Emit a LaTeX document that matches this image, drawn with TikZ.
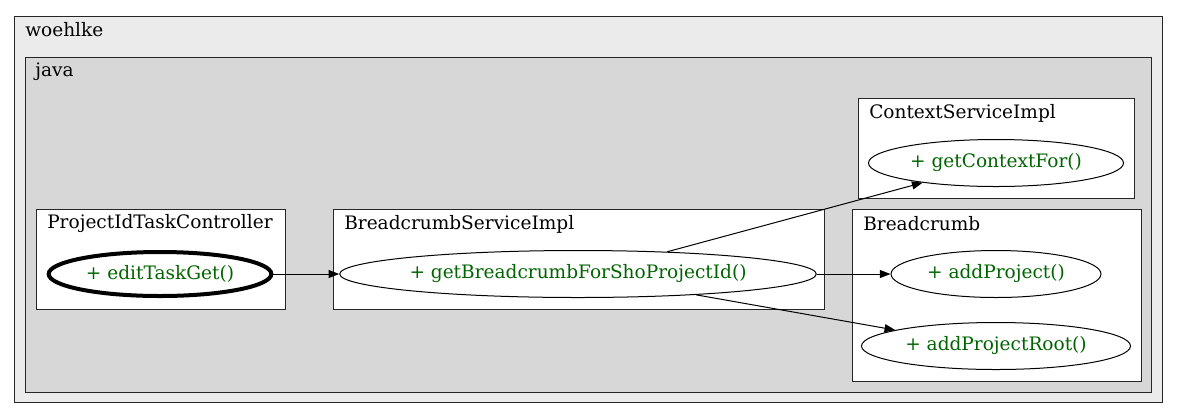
\documentclass[tikz,border=0pt]{standalone}
\usepackage{fontspec}
\setmainfont{DejaVu Serif}
\usetikzlibrary{arrows.meta,shapes.geometric}
\definecolor{pkgouter}{HTML}{EBEBEB}
\definecolor{pkginner}{HTML}{D7D7D7}
\definecolor{methgreen}{HTML}{006400}
\tikzset{
  cluster/.style={draw=black!85, line width=0.75pt},
  clabel/.style={anchor=west, inner sep=0pt, font=\fontsize{13.9pt}{15pt}\selectfont},
  method/.style={draw, ellipse, inner sep=0pt, line width=0.75pt, fill=white,
    text=methgreen, font=\fontsize{13.9pt}{15pt}\selectfont},
  call/.style={-{Triangle[length=8pt,width=6pt]}, line width=0.75pt}
}
\begin{document}
\begin{tikzpicture}[x=0.75pt,y=-0.75pt]
  \useasboundingbox[fill=white] (0,0) rectangle (1178,419);
  %%%%% packages %%%%%
  \filldraw[cluster, fill=pkgouter] (14,16) rectangle (1162,402);
  \node[clabel] (woehlke) at (25,30) {woehlke};
  \filldraw[cluster, fill=pkginner] (25,57) rectangle (1151,392);
  \node[clabel] (java) at (35,72) {java};
  %%%%% classes %%%%%
  \filldraw[cluster, fill=white] (36,209) rectangle (285,309);
  \node[clabel] (pitc) at (47,224) {ProjectIdTaskController};
  \filldraw[cluster, fill=white] (333,209) rectangle (824,309);
  \node[clabel] (bsi) at (344,224) {BreadcrumbServiceImpl};
  \filldraw[cluster, fill=white] (858,98) rectangle (1134,198);
  \node[clabel] (csi) at (869,113) {ContextServiceImpl};
  \filldraw[cluster, fill=white] (852,209) rectangle (1141,381);
  \node[clabel] (bc) at (863,224) {Breadcrumb};
  %%%%% methods %%%%%
  \node[method, line width=3pt, minimum width=167pt, minimum height=33pt] (edit) at (160,274) {+ editTaskGet()};
  \node[method, minimum width=351pt, minimum height=35.25pt] (getbc) at (578,274) {+ getBreadcrumbForShoProjectId()};
  \node[method, minimum width=191.25pt, minimum height=35.25pt] (getctx) at (996,163) {+ getContextFor()};
  \node[method, minimum width=157.5pt, minimum height=35.25pt] (addp) at (996,274) {+ addProject()};
  \node[method, minimum width=201.75pt, minimum height=35.25pt] (addpr) at (996,346) {+ addProjectRoot()};
  %%%%% calls %%%%%
  \draw[call] (edit) -- (getbc);
  \draw[call] (getbc.14) -- (getctx.195);
  \draw[call] (getbc) -- (addp);
  \draw[call] (getbc.-10) -- (addpr.171);
\end{tikzpicture}
\end{document}
